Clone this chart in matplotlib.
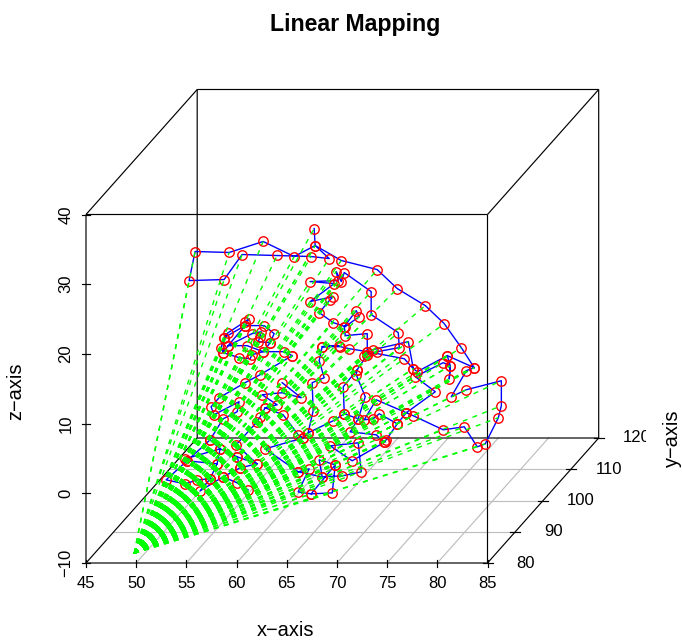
import numpy as np
import matplotlib
matplotlib.use('Agg')
import matplotlib.pyplot as plt
from matplotlib.transforms import Bbox

plt.rcParams['font.family'] = ['Liberation Sans', 'DejaVu Sans']

nan = np.nan

# path through the points, nan = pen up. depth (y) can't be read off a flat
# projection so everything sits on one y value
x_path = [67.73, 67.83, 65.74, 62.65, 59.26, 55.87, 55.27, 58.76, 60.55, 64.04, 67.43, 69.23, 67.83, 70.43,
          74.01, 76.01, 78.80, 80.69, 82.39, 83.68, 82.89, 81.39, 82.89, 86.38, 86.38, 86.08, 84.78, 83.98,
          82.69, 80.59, 77.61, 76.91, 79.80, 77.80, 80.59, 81.29, 81.19, 81.29, 80.99, 83.68, nan,
          80.99, 78.00, 77.61, 77.11, 73.61, 72.72, 73.02, 74.01, 76.21, 76.11, 73.41, 73.41, 70.73, 70.43,
          69.93, 70.13, 67.33, 69.73, 67.33, 69.63, 69.33, 68.23, 69.63, 70.83, 72.22, 71.92, 70.73, 70.83,
          73.02, 73.02, 76.71, 77.61, nan,
          73.02, 71.22, 70.33, 68.53, 70.23, 68.53, 68.23, 68.73, 67.53, 67.63, 67.13, 66.64, 66.14, 64.64,
          62.85, 64.04, 62.55, 64.54, 66.44, 64.54, nan,
          73.02, 72.02, 71.92, 72.82, 72.12, 70.73, 70.63, 72.02, nan,
          76.91, 73.91, 72.72, 73.61, 74.21, 76.01, 74.91, 74.71, 73.91, 71.32, 72.12, nan,
          76.01, 76.91, nan,
          70.73, 69.63, 67.13, nan,
          74.81, 71.52, 69.33, 72.12, 72.42, 70.53, 68.53, 68.23, 69.83, 69.53, 67.43, 66.14, 67.23, 66.14,
          68.53, nan,
          67.43, 69.83, nan,
          65.54, 64.74, 62.65, 61.55, 61.35, 60.25, 58.66, 58.46, 58.76, 59.16, 60.85, 61.25, 60.85, 62.75,
          63.74, 63.35, 62.65, 61.05, 59.16, 58.66, 58.76, 60.85, 59.16, 61.55, 62.45, 62.35, 62.15, 63.35, nan,
          65.54, 62.35, 60.85, 58.26, 57.46, 57.76, 60.25, 60.06, 58.66, 57.36, 55.07, 54.87, 58.36, 57.36, nan,
          62.85, 62.35, 62.05, 59.96, 62.05, 60.06, 58.36, 58.06, 55.07, 52.98, 54.87, 56.07, 57.36, 56.37,
          58.66, 60.35, 62.05, nan,
          57.36, 58.06, nan,
          58.66, 60.06, 61.15, nan,
          60.35, 60.06, nan,
          66.64, 62.85, 66.14]
z_path = [37.99, 35.55, 33.97, 36.13, 34.55, 34.69, 30.52, 30.67, 34.26, 34.12, 33.97, 33.68, 35.55, 33.40,
          32.10, 29.37, 26.93, 24.34, 20.90, 18.02, 17.59, 13.85, 14.86, 16.15, 12.56, 10.84, 7.10, 6.67,
          9.54, 9.11, 11.12, 11.56, 14.57, 16.73, 18.74, 18.31, 16.44, 18.31, 19.75, 18.02, nan,
          19.75, 17.45, 17.88, 21.76, 20.61, 19.75, 19.89, 20.32, 20.90, 23.05, 25.64, 28.94, 31.67, 30.38,
          31.82, 30.52, 30.38, 30.09, 27.51, 28.22, 27.79, 25.92, 24.49, 23.91, 25.35, 26.21, 23.91, 22.62,
          22.91, 20.32, 19.31, 17.88, nan,
          20.32, 20.75, 21.04, 21.04, 21.18, 21.04, 19.03, 16.58, 15.87, 11.84, 8.68, 7.96, 8.39, 11.27,
          12.27, 12.70, 14.14, 14.43, 13.71, 15.87, nan,
          19.89, 17.73, 17.02, 13.85, 10.69, 11.41, 15.29, 17.73, nan,
          11.56, 13.42, 10.55, 10.69, 11.41, 9.97, 7.67, 7.39, 8.39, 8.82, 10.69, nan,
          9.97, 11.56, nan,
          11.41, 10.41, 8.68, nan,
          7.39, 4.66, 6.81, 7.24, 3.08, 2.50, 2.36, 4.80, 4.08, 0.06, -0.08, 0.20, 3.51, 3.08,
          2.36, nan,
          -0.08, 4.08, nan,
          19.75, 20.32, 20.32, 19.89, 19.31, 19.46, 20.18, 20.90, 22.33, 23.05, 24.63, 25.06, 24.06, 24.06,
          22.91, 21.61, 20.32, 21.18, 21.18, 20.18, 22.33, 24.06, 21.18, 22.91, 23.19, 22.48, 21.76, 21.61, nan,
          19.75, 17.02, 15.87, 13.71, 12.42, 11.27, 13.14, 11.70, 10.69, 7.67, 4.66, 4.94, 6.38, 7.67, nan,
          12.27, 10.98, 10.26, 6.96, 4.23, 5.23, 6.38, 4.23, 4.66, 1.93, 1.35, 1.93, 2.07, 0.35,
          2.36, 3.65, 4.23, nan,
          2.07, 4.23, nan,
          2.36, 1.50, 0.49, nan,
          3.65, 5.23, nan,
          7.96, 6.38, 3.08]
y_depth = 80.0

# where the green rays all start
x_start, y_start, z_start = 49.8, 80.0, -8.6

x_ticks = [45, 50, 55, 60, 65, 70, 75, 80, 85]
y_ticks = [80, 90, 100, 110, 120]
z_ticks = [-10, 0, 10, 20, 30, 40]


# oblique projection like scatterplot3d
def project(x, y, z):
    x, y, z = np.asarray(x, float), np.asarray(y, float), np.asarray(z, float)
    sx = 86 + (x - 45) * 10.0375 + (y - 80) * 2.78
    sy = 563 - (z + 10) * 6.97 - (y - 80) * 3.125
    return sx, sy


fig = plt.figure(figsize=(6.82, 6.4), dpi=100)
ax = fig.add_axes([0, 0, 1, 1])
ax.set_xlim(0, 682)
ax.set_ylim(640, 0)
ax.axis('off')

lw = 0.85
fs = 12
fs_lab = 14.4

# floor grid
for xt in x_ticks[1:-1]:
    sx, sy = project([xt, xt], [80, 120], [-10, -10])
    ax.plot(sx, sy, color='#bebebe', lw=lw)
for yt in y_ticks[1:-1]:
    sx, sy = project([45, 85], [yt, yt], [-10, -10])
    ax.plot(sx, sy, color='#bebebe', lw=lw)

# box
edges = [((45, 80, -10), (85, 80, -10)), ((45, 80, -10), (45, 80, 40)), ((85, 80, -10), (85, 80, 40)),
         ((45, 80, 40), (85, 80, 40)), ((45, 120, -10), (85, 120, -10)), ((45, 120, -10), (45, 120, 40)),
         ((85, 120, -10), (85, 120, 40)), ((45, 120, 40), (85, 120, 40)), ((45, 80, -10), (45, 120, -10)),
         ((85, 80, -10), (85, 120, -10)), ((45, 80, 40), (45, 120, 40)), ((85, 80, 40), (85, 120, 40))]
for a, b in edges:
    sx, sy = project(*zip(a, b))
    ax.plot(sx, sy, color='black', lw=lw, solid_capstyle='butt', snap=False)

# ticks and tick labels
for xt in x_ticks:
    sx, sy = project(xt, 80, -10)
    ax.plot([sx, sx], [sy - 3.5, sy + 3.5], color='black', lw=lw)
    ax.text(sx, sy + 20, str(xt), ha='center', va='center', fontsize=fs)
for zt in z_ticks:
    sx, sy = project(45, 80, zt)
    ax.plot([sx - 4, sx + 4], [sy, sy], color='black', lw=lw)
    lab = str(zt).replace('-', '\u2212')
    ax.text(sx - 20, sy, lab, ha='center', va='center', rotation=90, fontsize=fs)
for yt in y_ticks:
    sx, sy = project(85, yt, -10)
    ax.plot([sx - 5, sx + 5], [sy, sy], color='black', lw=lw)
    t = ax.text(sx + 38, sy, str(yt), ha='center', va='center', fontsize=fs)
    t.set_clip_box(Bbox([[0, 0], [645.7, 640]]))
    t.set_clip_on(True)

# data
x_path = np.array(x_path)
z_path = np.array(z_path)
sx, sy = project(x_path, np.full(len(x_path), y_depth), z_path)
ax.plot(sx, sy, color='blue', lw=1.0)
ax.plot(sx, sy, ls='none', marker='o', ms=6.8, mfc='none', mec='red', mew=1.0)

sx0, sy0 = project(x_start, y_start, z_start)
for px, py in zip(sx[~np.isnan(sx)], sy[~np.isnan(sy)]):
    ax.plot([sx0, px], [sy0, py], color='#00ff00', lw=1.0, ls=(0, (3.6, 3.9)), dash_capstyle='butt')

ax.text(355.5, 24.5, 'Linear Mapping', ha='center', va='center', fontsize=16.7, fontweight='bold')
ax.text(286, 631, 'x\u2212axis', ha='center', va='center', fontsize=fs_lab)
ax.text(16, 391, 'z\u2212axis', ha='center', va='center', rotation=90, fontsize=fs_lab)
ax.text(672, 438, 'y\u2212axis', ha='center', va='center', rotation=90, fontsize=fs_lab)

fig.savefig('out.png', dpi=100)
